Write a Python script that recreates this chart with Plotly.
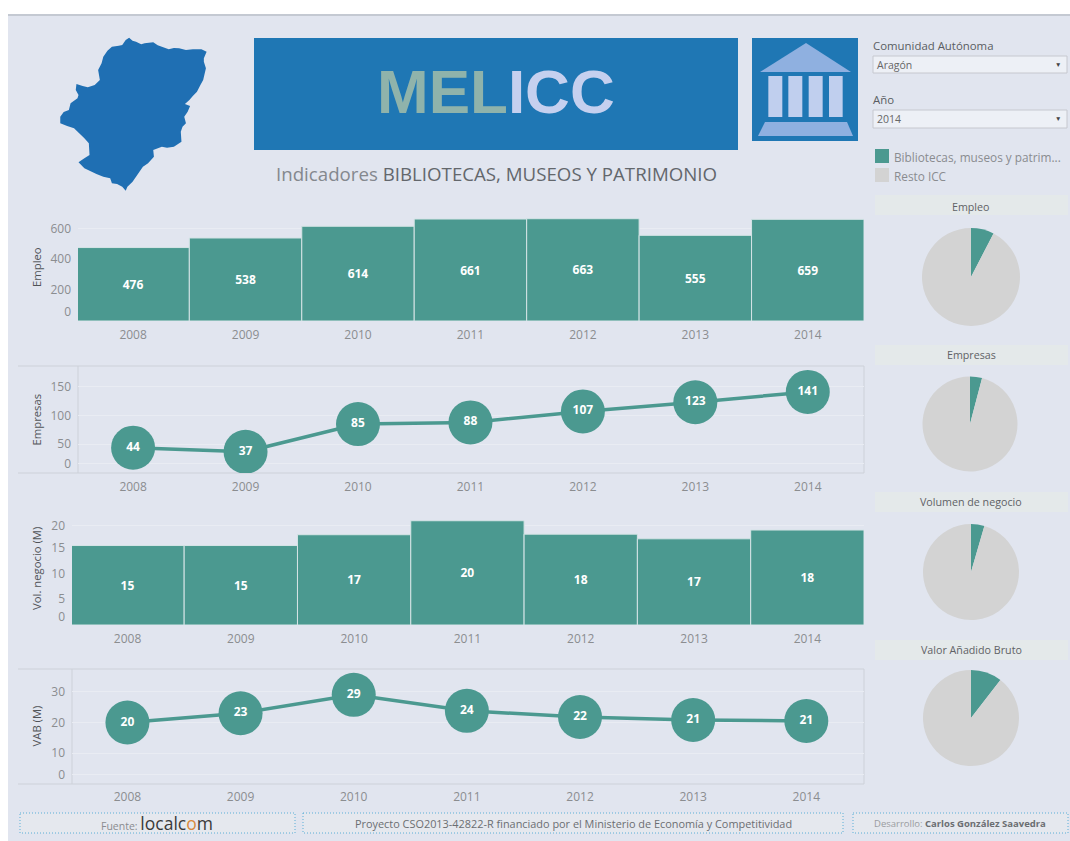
import plotly.graph_objects as go

W, H = 1070, 841
years = ["2008", "2009", "2010", "2011", "2012", "2013", "2014"]
empleo = [476, 538, 614, 661, 663, 555, 659]
empresas = [44, 37, 85, 88, 107, 123, 141]
vol_negocio = [15.4, 15.4, 17.49, 20.2, 17.6, 16.7, 18.4]
vab = [20.0, 23.0, 29.0, 23.8, 21.8, 20.8, 20.5]
pie_labels = ["Bibliotecas, museos y patrim...", "Resto ICC"]
pie_empleo = [7.6, 92.4]
pie_empresas = [4.1, 95.9]
pie_volumen = [4.5, 95.5]
pie_vab = [10.5, 89.5]

TEAL = "#4b9990"
GREY = "#d3d3d3"
BG = "#e1e5ef"
BLUE = "#1f77b4"
FONT = "Open Sans"
TICK = "#8b8d90"

# outline of the region, in zoomed-reference units
map_outline = [(375,113),(385,122),(395,125),(410,133),(420,130),(445,127),(458,136),(470,140),(490,148),(505,144),(520,145),(540,150),(560,148),(585,148),(600,155),
(592,175),(592,185),(598,205),(590,240),(582,255),(572,275),(560,288),(550,300),(537,312),(552,318),(545,335),(535,350),(540,370),(530,380),(525,395),(527,425),
(505,440),(485,443),(470,440),(445,450),(447,470),(430,490),(415,500),(405,515),(385,545),(370,560),(365,572),(355,560),(340,552),(325,550),
(320,535),(300,530),(280,522),(245,505),(228,487),(245,475),(260,465),(258,430),(245,415),(230,400),(215,385),(195,378),(175,370),(175,350),(185,336),(200,330),
(205,310),(225,295),(228,285),(220,270),(222,252),(240,258),(255,262),(275,255),(290,240),(285,210),(295,190),(300,170),(312,152),(325,140),(345,137),(355,135),(365,120)]

def fx(p): return p / W
def fy(p): return 1 - p / H

shapes, anns = [], []

def rect(x0, y0, x1, y1, fill, line=None, lw=1, dash=None, layer="below"):
    shapes.append(dict(type="rect", xref="paper", yref="paper", x0=fx(x0), x1=fx(x1), y0=fy(y0), y1=fy(y1),
                       fillcolor=fill, line=dict(color=line or fill, width=lw if line else 0, dash=dash), layer=layer))

def poly(pts, fill, layer="above"):
    d = "M" + " L".join(f"{fx(x):.5f},{fy(y):.5f}" for x, y in pts) + " Z"
    shapes.append(dict(type="path", xref="paper", yref="paper", path=d, fillcolor=fill, line=dict(width=0), layer=layer))

def text(x, y, s, size=11, color="#666", anchor="center", family=FONT, angle=0):
    anns.append(dict(xref="paper", yref="paper", x=fx(x), y=fy(y), text=s, showarrow=False, xanchor=anchor, yanchor="middle",
                     font=dict(size=size, color=color, family=family), textangle=angle))

# page
rect(8, 15, W + 2, H + 2, BG)
rect(8, 14, W + 2, 16, "#c4c9d2")

# map, banner, icon
poly([(x / 2.904, y / 3) for x, y in map_outline], "#1f6fb3")
rect(254, 38, 738, 150, BLUE)
text(496, 92, "<b><span style='color:#8fb3ab'>MEL</span><span style='color:#c5d0ef'>ICC</span></b>", size=62, family="Liberation Sans")
text(496, 174, "<span style='color:#84888e'>Indicadores </span><span style='color:#63676c'>BIBLIOTECAS, MUSEOS Y PATRIMONIO</span>", size=18.7)
rect(752, 38, 858, 141, BLUE)
poly([(806, 43), (851, 72), (760, 72)], "#8fb0e0")
for a, b in [(115, 157), (175, 217), (236, 278), (297, 338)]:
    rect(730 + a / 3, 76, 730 + b / 3, 117, "#c0cfee", layer="above")
poly([(765, 122), (847, 122), (853, 136), (758, 136)], "#8fb0e0")

# filters and legend
text(871, 46, "Comunidad Autónoma", 11.4, "#5a5d62", "left")
rect(873, 56, 1067, 73, "#edf0f6", "#c6c8cf")
text(875, 65, "Aragón", 10.5, "#666", "left")
text(1058, 65, "▼", 6.5, "#444")
text(871, 100, "Año", 11.4, "#5a5d62", "left")
rect(873, 110, 1067, 128, "#edf0f6", "#c6c8cf")
text(875, 119, "2014", 10.5, "#666", "left")
text(1058, 119, "▼", 6.5, "#444")
rect(875, 149, 889, 163, TEAL)
rect(875, 168, 889, 182, GREY)
text(892, 157, pie_labels[0], 11.8, "#8a8c90", "left")
text(892, 176, pie_labels[1], 11.8, "#8a8c90", "left")

# pie headers
for y0, ty, title in [(195, 207, "Empleo"), (345, 355, "Empresas"), (492, 502, "Volumen de negocio"), (640, 650, "Valor Añadido Bruto")]:
    rect(875, y0, 1068, y0 + 20, "#e4e9ea")
    text(971, ty, title, 10.7, "#5f6266")

# pane borders of the line charts
for y0, y1, x0, x1, xv in [(366, 473, 18, 864, 78), (669, 784, 18, 864, 72)]:
    for a, b, c, d in [(x0, x1, y0, y0), (x0, x1, y1, y1), (xv, xv, y0, y1), (x1, x1, y0, y1)]:
        shapes.append(dict(type="line", xref="paper", yref="paper", x0=fx(a), x1=fx(b), y0=fy(c), y1=fy(d),
                           line=dict(color="#cdd1d9", width=1), layer="below"))

# footer
DOT = "#5aaed6"
for x0, x1 in [(20, 295), (303, 843), (853, 1068)]:
    rect(x0, 813, x1, 833, "#e5e8ee", DOT, 1, "1px,2px")
text(157, 823, "<span style='font-size:10.5px;color:#8a8c90'>Fuente: </span><span style='color:#3a3a3a'>localc</span><span style='color:#d98a3c'>o</span><span style='color:#3a3a3a'>m</span>", 17.5)
text(573, 823, "Proyecto CSO2013-42822-R financiado por el Ministerio de Economía y Competitividad", 10.9, "#6b6e72")
text(960, 823, "<span style='color:#9a9ca0'>Desarrollo: </span><b style='color:#6b6e72'>Carlos González Saavedra</b>", 9.5)

fig = go.Figure()

def axes(n, x0, x1, ytop, ybot, ymax, tickvals, ticktext, xr, title, standoff):
    fig.layout[f"xaxis{n}"] = dict(domain=[fx(x0), fx(x1)], anchor=f"y{n}", type="linear", range=xr,
                                   tickvals=list(range(7)), ticktext=years, ticks="", showgrid=False, zeroline=False,
                                   tickfont=dict(size=12, color=TICK, family=FONT), ticklabelstandoff=standoff, showline=False)
    fig.layout[f"yaxis{n}"] = dict(domain=[fy(ybot), fy(ytop)], anchor=f"x{n}", range=[0, ymax], tickvals=tickvals, ticktext=ticktext,
                                   ticks="", showgrid=True, gridcolor="#e9ecf3", gridwidth=1, zeroline=False,
                                   tickfont=dict(size=12, color=TICK, family=FONT), showline=False, ticklabelstandoff=6)
    text(36, (ytop + ybot) / 2, title, 11.3, "#505357", angle=-90)

idx = list(range(7))

def bars(n, values):
    fig.add_trace(go.Bar(x=idx, y=values, xaxis=f"x{n}", yaxis=f"y{n}", width=1, marker=dict(color=TEAL, line=dict(color="#d5e4e6", width=1)),
                         texttemplate="<b>%{y:.0f}</b>", textposition="inside", insidetextanchor="middle", textangle=0,
                         insidetextfont=dict(color="white", size=12, family=FONT), showlegend=False))

def line(n, values):
    fig.add_trace(go.Scatter(x=idx, y=values, xaxis=f"x{n}", yaxis=f"y{n}", mode="lines+markers+text",
                             line=dict(color=TEAL, width=3.5), marker=dict(size=44, color=TEAL),
                             texttemplate="<b>%{y:.0f}</b>", textposition="middle center", textfont=dict(color="white", size=12, family=FONT), showlegend=False))

# the tick position of each "0" label sits above the baseline, as in the reference
axes(1, 78, 864, 213, 321, 700, [58, 200, 400, 600], ["0", "200", "400", "600"], [-0.49, 6.5], "Empleo", 5)
bars(1, empleo)
axes(2, 78, 864, 366, 473, 186, [16, 50, 100, 150], ["0", "50", "100", "150"], [-0.49, 6.5], "Empresas", 5)
line(2, empresas)
axes(3, 72, 864, 513, 625, 21.7, [1.5, 5, 10, 15, 19.3], ["0", "5", "10", "15", "20"], [-0.49, 6.5], "Vol. negocio (M)", 5)
bars(3, vol_negocio)
axes(4, 72, 864, 669, 784, 37.4, [3, 10, 20, 30], ["0", "10", "20", "30"], [-0.49, 6.51], "VAB (M)", 4)
line(4, vab)

def pie(values, cx, cy, r):
    fig.add_trace(go.Pie(values=values, labels=pie_labels, sort=False, direction="clockwise", rotation=0, textinfo="none",
                         marker=dict(colors=[TEAL, GREY], line=dict(width=0)), showlegend=False, hole=0,
                         domain=dict(x=[fx(cx - r), fx(cx + r)], y=[fy(cy + r), fy(cy - r)])))

pie(pie_empleo, 971, 277, 49)
pie(pie_empresas, 970, 424, 47.5)
pie(pie_volumen, 971, 572, 48)
pie(pie_vab, 971, 718, 48)

fig.update_layout(width=W, height=H, margin=dict(l=0, r=0, t=0, b=0), paper_bgcolor="white", plot_bgcolor="rgba(0,0,0,0)",
                  barmode="overlay", shapes=shapes, annotations=anns, showlegend=False, font=dict(family=FONT))
fig.write_html("out.html", config={"displayModeBar": False},
               post_script="document.body.style.margin='0';document.body.style.overflow='hidden';")
